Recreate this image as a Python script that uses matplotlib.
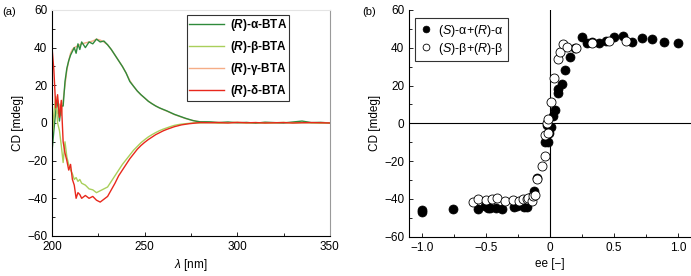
import numpy as np
import matplotlib.pyplot as plt

plt.rcParams['font.family'] = ['Liberation Sans', 'DejaVu Sans']
plt.rcParams['mathtext.fontset'] = 'custom'
plt.rcParams['mathtext.rm'] = 'Liberation Sans'
plt.rcParams['mathtext.it'] = 'Liberation Sans:italic'
plt.rcParams['mathtext.bf'] = 'Liberation Sans:bold'
plt.rcParams['mathtext.bfit'] = 'Liberation Sans:italic:bold'

# --- (a) CD spectra ---
wl = np.r_[200:217:1, 218:281:2, 285:351:5]

cd_a = [-15, -4, 6, 12, 1, 9, 9, 22, 29, 33, 36, 38, 40, 37, 42, 39, 43,
        40, 43, 42, 44.5, 43, 43.5, 41.5, 39, 36, 33, 30, 26.5, 22, 19.5, 17, 15,
        13.3, 11.5, 10.2, 9, 8, 7.2, 6.4, 5.5, 4.6, 3.9, 3.2, 2.5, 1.9, 1.3, 0.9, 0.6,
        0.6, 0.2, 0.5, 0.1, 0.3, -0.1, 0.4, 0.2, 0.0, 0.5, 1.0, 0.2, 0.3, 0.0]
cd_b = [-8, 5, 14, 0, -4, -12, -21, -10, -18, -22, -25, -27, -30, -29, -31, -30, -32,
        -33, -35, -35.5, -37, -36, -35, -34, -31, -28, -25, -22, -19.5, -17, -14.5, -12.5, -10.5,
        -8.9, -7.4, -6.2, -5.1, -4.1, -3.3, -2.6, -1.9, -1.3, -0.9, -0.6, -0.4, -0.2, 0.0, 0.1, 0.0,
        0.2, -0.1, 0.1, 0.3, 0.0, 0.2, -0.1, 0.1, 0.3, 0.0, 0.2, 0.1, -0.1, 0.1]
cd_g = [-10, 2, 8, 5, 10, 4, 12, 20, 28, 33, 37, 39, 40, 40.5, 41, 41.5, 42,
        42.5, 43, 43.5, 44.5, 44, 43, 41.5, 39, 36, 33, 30, 26.5, 22.5, 19.5, 17, 15,
        13.2, 11.6, 10.2, 9, 8, 7.1, 6.3, 5.4, 4.5, 3.8, 3.1, 2.4, 1.8, 1.3, 0.9, 0.6,
        0.4, 0.3, 0.2, 0.2, 0.1, 0.1, 0.2, 0.1, 0.1, 0.2, 0.3, 0.1, 0.2, 0.1]
cd_d = [40, 28, 8, 15, 3, 12, -10, -16, -20, -25, -22, -30, -33, -40, -37, -38, -40,
        -38.5, -40, -39, -41, -42, -40.5, -39, -35.5, -32, -28, -25, -22, -19, -16.5, -14, -12,
        -10.3, -8.8, -7.5, -6.2, -5.2, -4.2, -3.4, -2.7, -2.0, -1.5, -1.0, -0.7, -0.4, -0.2, 0.0, 0.2,
        0.1, 0.2, 0.0, 0.3, 0.1, 0.2, 0.0, 0.1, 0.2, 0.0, 0.1, 0.2, 0.1, 0.0]

# --- (b) CD vs ee ---
ee_alpha = [-1.0, -1.0, -0.76, -0.56, -0.51, -0.48, -0.47, -0.42, -0.375, -0.28, -0.26,
            -0.2, -0.18, -0.15, -0.125, -0.104, -0.04, -0.013, -0.01, -0.023, 0.005, 0.02,
            0.04, 0.06, 0.065, 0.09, 0.12, 0.155, 0.195, 0.25, 0.29, 0.33, 0.38, 0.44,
            0.5, 0.57, 0.64, 0.72, 0.80, 0.89, 1.0]
cd_alpha = [-46, -47, -45.2, -45.5, -43.5, -45, -44.6, -45, -45.3, -44, -43.8,
            -44, -44.2, -39, -35.6, -29, -10, -10, -5, -1, -2, 4,
            7, 16, 18, 21, 28, 35, 40, 45.8, 42.6, 43, 42.4, 43.7,
            45.5, 46, 43, 45, 44.4, 42.8, 42.3]
ee_beta = [-0.60, -0.56, -0.5, -0.45, -0.41, -0.35, -0.29, -0.24, -0.21, -0.18, -0.17,
           -0.14, -0.13, -0.12, -0.1, -0.065, -0.04, -0.035, -0.02, -0.013, -0.013, 0.005,
           0.035, 0.06, 0.08, 0.10, 0.13, 0.20, 0.33, 0.46, 0.59]
cd_beta = [-41.4, -40, -40.4, -40, -39.4, -41.3, -40.4, -41, -40, -40, -39.7,
           -41, -38.2, -38, -29.2, -22.8, -17.5, -5.9, 0, -5.1, 2.1, 11.3,
           24, 33.8, 37.5, 41.8, 40.2, 39.7, 42.6, 43.7, 43.7]

fig = plt.figure(figsize=(6.91, 2.76), dpi=100)
ax1 = fig.add_axes([0.0753, 0.145, 0.402, 0.819])
ax2 = fig.add_axes([0.5919, 0.142, 0.408, 0.822])

# left panel
lg, = ax1.plot(wl, cd_g, color='#f5ad86', lw=1.0, label=r'($\mathbfit{R}$)-γ-BTA')
la, = ax1.plot(wl, cd_a, color='#2f8a3b', lw=1.0, label=r'($\mathbfit{R}$)-α-BTA')
lb, = ax1.plot(wl, cd_b, color='#a9cf5b', lw=1.0, label=r'($\mathbfit{R}$)-β-BTA')
ld, = ax1.plot(wl, cd_d, color='#e8281c', lw=1.0, label=r'($\mathbfit{R}$)-δ-BTA')
ax1.set_xlim(200, 350)
ax1.set_ylim(-60, 60)
ax1.set_xticks([200, 250, 300, 350])
ax1.set_xticks([225, 275, 325], minor=True)
ax1.set_yticks(range(-60, 61, 20))
ax1.set_yticks(range(-50, 60, 20), minor=True)
ax1.set_xlabel(r'$\lambda$ [nm]', fontsize=8.5, labelpad=3)
ax1.set_ylabel('CD [mdeg]', fontsize=8.5, labelpad=2)
ax1.spines['top'].set_color('#e4e4e4')
ax1.spines['right'].set_color('#9a9a9a')
leg1 = ax1.legend(handles=[la, lb, lg, ld], loc='upper right',
                  bbox_to_anchor=(0.862, 0.988),
                  prop={'weight': 'bold', 'size': 8.5},
                  frameon=True, fancybox=False, edgecolor='black',
                  handlelength=2.9, labelspacing=0.5, borderpad=0.2,
                  borderaxespad=0.2, handletextpad=0.5)
leg1.get_frame().set_linewidth(0.8)

# right panel
ax2.axhline(0, color='black', lw=0.8, zorder=1)
ax2.axvline(0, color='black', lw=0.8, zorder=1)
ax2.plot(ee_alpha, cd_alpha, 'o', ms=6.5, mfc='black', mec='black', mew=0.5,
         label=r'($\it{S}$)-α+($\it{R}$)-α', zorder=3)
ax2.plot(ee_beta, cd_beta, 'o', ms=6.5, mfc='white', mec='black', mew=0.6,
         label=r'($\it{S}$)-β+($\it{R}$)-β', zorder=4)
ax2.set_xlim(-1.1, 1.1)
ax2.set_ylim(-60, 60)
ax2.set_xticks([-1.0, -0.5, 0, 0.5, 1.0])
ax2.set_xticklabels(['−1.0', '−0.5', '0', '0.5', '1.0'])
ax2.set_xticks([-0.75, -0.25, 0.25, 0.75], minor=True)
ax2.set_yticks(range(-60, 61, 20))
ax2.set_yticks(range(-50, 60, 20), minor=True)
ax2.set_xlabel('ee [−]', fontsize=8.5, labelpad=3)
ax2.set_ylabel('CD [mdeg]', fontsize=8.5, labelpad=2)
ax2.spines['top'].set_visible(False)
ax2.spines['right'].set_visible(False)
leg2 = ax2.legend(loc='upper left', bbox_to_anchor=(0.0, 0.99), fontsize=9,
                  frameon=True, fancybox=False, edgecolor='black',
                  handlelength=1.0, labelspacing=0.15, borderpad=0.35,
                  handletextpad=0.5, markerscale=0.75)
leg2.get_frame().set_linewidth(0.8)

for ax in (ax1, ax2):
    ax.tick_params(which='both', direction='in', labelsize=8.5, width=0.6)
    ax.tick_params(which='major', length=3)
    ax.tick_params(which='minor', length=2)
    for s in ('left', 'bottom'):
        ax.spines[s].set_linewidth(0.8)

fig.text(0.003, 0.975, '(a)', fontsize=8, va='top')
fig.text(0.524, 0.975, '(b)', fontsize=8, va='top')

fig.savefig('out.png', dpi=100)
